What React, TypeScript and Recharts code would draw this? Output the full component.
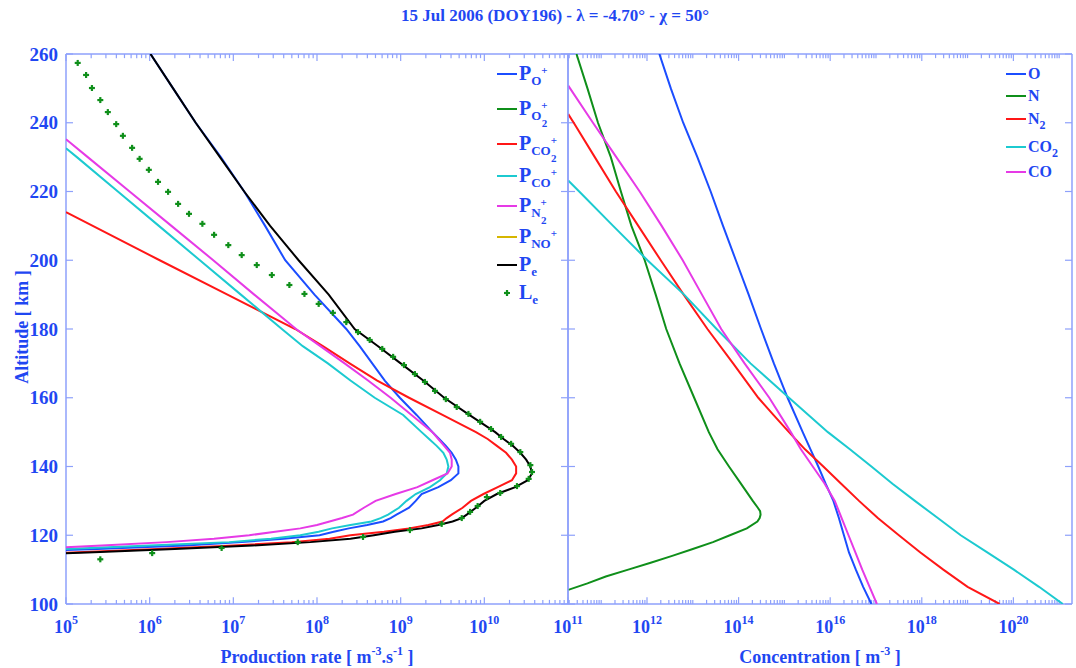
"use client";

import { ScatterChart, Scatter, XAxis, YAxis, ReferenceLine } from "recharts";

/* ------------------------------------------------------ */
/* COLORES / ESTILO */
/* ------------------------------------------------------ */
const TEXT = "#1f47f2";
const AXIS = "#8ea1fb";
const FONT = '"Liberation Serif", "Times New Roman", serif';

const C_BLUE = "#1b4dff";
const C_GREEN = "#0f8f1a";
const C_RED = "#ff1717";
const C_CYAN = "#1ccad0";
const C_MAGENTA = "#e63ae6";
const C_YELLOW = "#d6b600";
const C_BLACK = "#000000";

/* ------------------------------------------------------ */
/* EJES */
/* ------------------------------------------------------ */
const ALT_TICKS = [100, 120, 140, 160, 180, 200, 220, 240, 260];
const ALT_RANGE = [100, 260];
const PROD_EXP_TICKS = [5, 6, 7, 8, 9, 10, 11];
const PROD_EXP_RANGE = [5, 11];
const CONC_EXP_TICKS = [12, 14, 16, 18, 20];
const CONC_EXP_RANGE = [10.275, 21.28];
// largo de las marcas del eje x, en km del eje vertical (~7px y ~4px)
const MAJOR_LEN_KM = 2.0;
const MINOR_LEN_KM = 1.2;

/* ------------------------------------------------------ */
/* DATOS: [altitud km, log10(valor)] */
/* ------------------------------------------------------ */
// tasas de producción (m^-3 s^-1)
const P_O = [
  [115.7, 5.0], [116, 5.37], [117, 6.43], [118, 7.1], [119, 7.6], [120, 8.03],
  [121, 8.2], [122, 8.38], [123, 8.6], [124, 8.79], [125, 8.88], [126, 8.95],
  [128, 9.1], [130, 9.18], [132, 9.25], [134, 9.45], [136, 9.6], [138, 9.69],
  [140, 9.69], [142, 9.66], [144, 9.61], [146, 9.54], [148, 9.46], [150, 9.38],
  [155, 9.19], [160, 8.99], [165, 8.81], [170, 8.66], [175, 8.51], [180, 8.35],
  [190, 7.97], [200, 7.62], [210, 7.38], [220, 7.13], [230, 6.85], [240, 6.55],
  [250, 6.28], [260, 6.01],
];
const P_CO2 = [
  [114.9, 5.0], [116, 6.1], [117, 7.0], [118, 7.7], [119, 8.15], [120, 8.4],
  [121, 8.8], [122, 9.1], [123, 9.33], [124, 9.5], [125, 9.55], [126, 9.61],
  [128, 9.74], [130, 9.84], [132, 9.99], [134, 10.16], [136, 10.33], [138, 10.38],
  [140, 10.38], [142, 10.33], [144, 10.26], [146, 10.15], [148, 10.04], [150, 9.9],
  [155, 9.5], [160, 9.1], [165, 8.72], [170, 8.39], [175, 8.07], [180, 7.74],
  [190, 6.93], [200, 6.12], [210, 5.32], [214, 5.0],
];
const P_CO = [
  [116, 5.0], [117, 6.0], [118, 6.95], [119, 7.45], [120, 7.8], [121, 8.02],
  [122, 8.18], [123, 8.4], [124, 8.65], [125, 8.76], [126, 8.85], [128, 8.98],
  [130, 9.07], [132, 9.18], [134, 9.35], [136, 9.47], [138, 9.55], [140, 9.57],
  [142, 9.55], [144, 9.51], [146, 9.43], [148, 9.34], [150, 9.25], [155, 9.03],
  [160, 8.69], [165, 8.4], [170, 8.13], [175, 7.83], [180, 7.58], [190, 7.09],
  [200, 6.6], [210, 6.11], [220, 5.62], [230, 5.13], [232.6, 5.0],
];
const P_N2 = [
  [116.5, 5.0], [117, 5.43], [118, 6.2], [119, 6.77], [120, 7.19], [121, 7.5],
  [122, 7.8], [123, 8.0], [124, 8.15], [125, 8.3], [126, 8.43], [128, 8.56],
  [130, 8.7], [132, 8.94], [134, 9.2], [136, 9.38], [138, 9.56], [140, 9.61],
  [142, 9.61], [144, 9.59], [146, 9.52], [148, 9.45], [150, 9.38], [155, 9.13],
  [160, 8.88], [165, 8.61], [170, 8.33], [175, 8.04], [180, 7.75], [190, 7.25],
  [200, 6.76], [210, 6.26], [220, 5.76], [230, 5.26], [235.2, 5.0],
];
const P_E = [
  [114.75, 5.0], [115, 5.26], [116, 6.3], [117, 7.23], [118, 7.92], [119, 8.4],
  [120, 8.68], [121, 8.93], [122, 9.25], [123, 9.45], [124, 9.62], [125, 9.73],
  [126, 9.79], [128, 9.9], [130, 10.0], [132, 10.15], [134, 10.37], [136, 10.52],
  [138, 10.57], [140, 10.55], [142, 10.5], [144, 10.43], [146, 10.34], [148, 10.23],
  [150, 10.13], [155, 9.82], [160, 9.52], [165, 9.27], [170, 9.0], [175, 8.73],
  [180, 8.45], [190, 8.14], [200, 7.78], [210, 7.44], [220, 7.13], [230, 6.84],
  [240, 6.55], [250, 6.28], [260, 6.01],
];
// pérdidas (marcadores)
const L_E = [
  [257.4, 5.14], [253.9, 5.24], [250.1, 5.31], [246.6, 5.41], [243.1, 5.5],
  [239.6, 5.6], [236.2, 5.68], [232.7, 5.79], [229.5, 5.88], [226.3, 5.99],
  [222.8, 6.1], [219.9, 6.22], [216.4, 6.34], [213.5, 6.47], [210.6, 6.63],
  [207.4, 6.77], [204.4, 6.94], [201.5, 7.1], [198.6, 7.28], [195.7, 7.46],
  [192.8, 7.67], [190.2, 7.85], [187.3, 8.02], [184.7, 8.19], [182.0, 8.35],
  [179.1, 8.49], [176.8, 8.63], [174.2, 8.78], [171.9, 8.91], [169.5, 9.04],
  [166.9, 9.17], [164.6, 9.29], [162.0, 9.41], [159.6, 9.54], [157.3, 9.67],
  [155.3, 9.81], [153.0, 9.95], [150.9, 10.08], [148.6, 10.2], [146.6, 10.32],
  [144.2, 10.43], [140.4, 10.55], [138.4, 10.57], [136.4, 10.53], [134.3, 10.39],
  [132.3, 10.19], [131.1, 10.03], [128.5, 9.92], [126.8, 9.83], [125.0, 9.73],
  [123.3, 9.49], [121.5, 9.11], [119.5, 8.55], [118.0, 7.77], [116.3, 6.86],
  [114.8, 6.03], [113.0, 5.41],
];

// concentraciones (m^-3)
const N_O = [
  [100, 16.9], [105, 16.72], [110, 16.56], [115, 16.41], [120, 16.3], [125, 16.19],
  [130, 16.07], [135, 15.9], [140, 15.74], [145, 15.57], [150, 15.4], [160, 15.07],
  [170, 14.77], [180, 14.49], [190, 14.22], [200, 13.94], [210, 13.66], [220, 13.39],
  [230, 13.1], [240, 12.79], [250, 12.52], [260, 12.27],
];
const N_N = [
  [104.1, 10.28], [106, 10.7], [108, 11.1], [110, 11.59], [112, 12.08], [114, 12.55],
  [116, 13.0], [118, 13.44], [120, 13.81], [122, 14.18], [124, 14.41], [125, 14.46],
  [126, 14.48], [127, 14.47], [128, 14.42], [130, 14.31], [135, 14.05], [140, 13.79],
  [145, 13.54], [150, 13.35], [160, 13.03], [170, 12.71], [180, 12.42], [190, 12.19],
  [200, 11.95], [210, 11.66], [220, 11.43], [230, 11.21], [240, 10.93], [250, 10.7],
  [260, 10.46],
];
const N_N2 = [
  [100, 19.7], [105, 19.0], [110, 18.47], [115, 17.97], [120, 17.5], [125, 17.04],
  [130, 16.63], [135, 16.24], [140, 15.85], [145, 15.45], [150, 15.1], [155, 14.76],
  [160, 14.43], [170, 13.88], [180, 13.32], [190, 12.8], [200, 12.3], [210, 11.81],
  [220, 11.32], [230, 10.86], [240, 10.4], [242.5, 10.28],
];
const N_CO2 = [
  [100, 21.08], [105, 20.56], [110, 20.01], [115, 19.43], [120, 18.85], [125, 18.35],
  [130, 17.85], [135, 17.36], [140, 16.9], [145, 16.43], [150, 15.95], [160, 15.1],
  [170, 14.26], [180, 13.52], [190, 12.81], [200, 12.01], [210, 11.26], [220, 10.52],
  [223.2, 10.28],
];
const N_CO = [
  [100, 17.02], [105, 16.86], [110, 16.7], [115, 16.55], [120, 16.4], [125, 16.25],
  [130, 16.1], [135, 15.88], [140, 15.62], [145, 15.36], [150, 15.14], [160, 14.67],
  [170, 14.13], [180, 13.62], [190, 13.2], [200, 12.78], [210, 12.32], [220, 11.84],
  [230, 11.33], [240, 10.82], [250, 10.32], [250.8, 10.28],
];

const toPts = (pairs: number[][]) =>
  pairs.map(([alt, e]) => ({ alt, x: Math.pow(10, e) }));

// todas las marcas de un eje log: 1..9 x 10^n dentro del rango
function logTickValues(range: number[]) {
  const out: number[] = [];
  for (let n = Math.floor(range[0]); n <= Math.ceil(range[1]); n++) {
    for (let k = 1; k <= 9; k++) {
      const l = n + Math.log10(k);
      if (l >= range[0] - 1e-6 && l <= range[1] + 1e-6) out.push(k * Math.pow(10, n));
    }
  }
  return out;
}

const isMajor = (v: number, majorExp: number[]) => {
  const l = Math.log10(v);
  const e = Math.round(l);
  return Math.abs(l - e) < 1e-6 && majorExp.includes(e);
};

/* ------------------------------------------------------ */
/* PIEZAS */
/* ------------------------------------------------------ */
const NoDot = () => <g />;
const NoLabel = () => <g />;

const PlusMark = (props: any) => {
  const { cx, cy } = props;
  if (cx == null || cy == null) return <g />;
  return (
    <g stroke={C_GREEN} strokeWidth={2.2}>
      <line x1={cx - 3} x2={cx + 3} y1={cy} y2={cy} />
      <line x1={cx} x2={cx} y1={cy - 3} y2={cy + 3} />
    </g>
  );
};

// etiqueta 10^n en las marcas principales
const makeXLabel = (majorExp: number[]) => (props: any) => {
  const { x, y, payload } = props;
  if (!isMajor(payload.value, majorExp)) return <g />;
  const e = Math.round(Math.log10(payload.value));
  return (
    <text x={x} y={y + 29} textAnchor="middle" fill={TEXT} fontFamily={FONT} fontWeight="bold" fontSize={18}>
      10
      <tspan dy={-9} fontSize={12}>{e}</tspan>
    </text>
  );
};

// los ejes no espejados ocupan 1px, el margen lo compensa
function Frame({ left, width, margin, expRange, majorExp, showY, children }: any) {
  const domain = [Math.pow(10, expRange[0]), Math.pow(10, expRange[1])];
  const allTicks = logTickValues(expRange);
  const axisLine = { stroke: AXIS, strokeWidth: 1.5 };
  const tickLine = { stroke: AXIS, strokeWidth: 1.2 };
  const xCommon = {
    type: "number" as const,
    dataKey: "x",
    scale: "log" as const,
    domain,
    allowDataOverflow: true,
    interval: 0,
    height: 1,
    ticks: allTicks,
    tickLine: false,
    tickSize: 0,
    tickMargin: 0,
    axisLine,
  };
  const yCommon = { type: "number" as const, domain: ALT_RANGE, allowDataOverflow: true, ticks: ALT_TICKS, interval: 0, width: 1 };

  // marcas del eje x hacia adentro (abajo y arriba)
  const marks = allTicks.flatMap((v) => {
    const d = isMajor(v, majorExp) ? MAJOR_LEN_KM : MINOR_LEN_KM;
    return [
      <ReferenceLine
        key={`b${v}`}
        xAxisId="v"
        yAxisId="v"
        segment={[{ x: v, y: ALT_RANGE[0] }, { x: v, y: ALT_RANGE[0] + d }]}
        stroke={AXIS}
        strokeWidth={1.2}
        ifOverflow="visible"
      />,
      <ReferenceLine
        key={`t${v}`}
        xAxisId="v"
        yAxisId="v"
        segment={[{ x: v, y: ALT_RANGE[1] }, { x: v, y: ALT_RANGE[1] - d }]}
        stroke={AXIS}
        strokeWidth={1.2}
        ifOverflow="visible"
      />,
    ];
  });

  return (
    <div style={{ position: "absolute", left, top: 0 }}>
      <ScatterChart width={width} height={668} margin={margin}>
        <XAxis xAxisId="v" {...xCommon} tick={makeXLabel(majorExp)} />
        <XAxis xAxisId="t" orientation="top" {...xCommon} tick={NoLabel} />
        <YAxis
          yAxisId="v"
          dataKey="alt"
          {...yCommon}
          tick={showY ? { fill: TEXT, fontSize: 19, fontWeight: "bold", fontFamily: FONT } : NoLabel}
          tickLine={false}
          axisLine={false}
          tickSize={0}
          tickMargin={8}
        />
        <YAxis yAxisId="lM" {...yCommon} tick={NoLabel} mirror tickSize={7} tickLine={tickLine} axisLine={axisLine} />
        <YAxis yAxisId="rM" orientation="right" {...yCommon} tick={NoLabel} mirror tickSize={7} tickLine={tickLine} axisLine={axisLine} />
        {marks}
        {children}
      </ScatterChart>
    </div>
  );
}

const curve = (key: string, pairs: number[][], color: string) => (
  <Scatter
    key={key}
    name={key}
    xAxisId="v"
    yAxisId="v"
    data={toPts(pairs)}
    fill={color}
    line={{ stroke: color, strokeWidth: 2 }}
    lineJointType="linear"
    shape={NoDot}
    isAnimationActive={false}
  />
);

const Sub = ({ children, size = 13, top = 5 }: any) => (
  <span style={{ position: "relative", top, fontSize: size }}>{children}</span>
);

// "+" arriba y "2" abajo, apilados
const PlusTwo = ({ two }: any) => (
  <>
    <Sub size={11} top={-6}>+</Sub>
    {two && <span style={{ position: "relative", top: 12, fontSize: 11, marginLeft: -6 }}>2</span>}
  </>
);

function Entry({ y, left, color, marker, size, children }: any) {
  return (
    <div style={{ position: "absolute", left, top: y - 12, height: 24, display: "flex", alignItems: "center", whiteSpace: "nowrap" }}>
      {marker ? (
        <svg width={20} height={10}>
          <PlusMark cx={10} cy={5} />
        </svg>
      ) : (
        <span style={{ width: 20, height: 2, background: color, display: "inline-block" }} />
      )}
      <span style={{ marginLeft: 2, fontSize: size, lineHeight: "24px" }}>{children}</span>
    </div>
  );
}

/* ------------------------------------------------------ */
/* UI */
/* ------------------------------------------------------ */
export default function App() {
  return (
    <div
      style={{
        position: "absolute",
        left: 0,
        top: 0,
        width: 1076,
        height: 668,
        background: "#fff",
        fontFamily: FONT,
        fontWeight: "bold",
        color: TEXT,
      }}
    >
      {/* TITULO */}
      <div style={{ position: "absolute", left: 0, width: 1110, top: 6, textAlign: "center", fontSize: 17 }}>
        15 Jul 2006 (DOY196) - λ = -4.70° - χ = 50°
      </div>

      {/* PANEL DERECHO: concentraciones */}
      <Frame
        left={556}
        width={520}
        margin={{ top: 53, right: 4, bottom: 63, left: 11 }}
        expRange={CONC_EXP_RANGE}
        majorExp={CONC_EXP_TICKS}
        showY={false}
      >
        {curve("O", N_O, C_BLUE)}
        {curve("N", N_N, C_GREEN)}
        {curve("N2", N_N2, C_RED)}
        {curve("CO2", N_CO2, C_CYAN)}
        {curve("CO", N_CO, C_MAGENTA)}
      </Frame>

      {/* PANEL IZQUIERDO: producción */}
      <Frame
        left={0}
        width={600}
        margin={{ top: 53, right: 32, bottom: 63, left: 65 }}
        expRange={PROD_EXP_RANGE}
        majorExp={PROD_EXP_TICKS}
        showY
      >
        {curve("PO+", P_O, C_BLUE)}
        {curve("PCO2+", P_CO2, C_RED)}
        {curve("PCO+", P_CO, C_CYAN)}
        {curve("PN2+", P_N2, C_MAGENTA)}
        {curve("Pe", P_E, C_BLACK)}
        <Scatter
          name="Le"
          xAxisId="v"
          yAxisId="v"
          data={toPts(L_E)}
          fill={C_GREEN}
          shape={PlusMark}
          isAnimationActive={false}
        />
      </Frame>

      {/* ETIQUETAS DE EJES */}
      <div style={{ position: "absolute", left: 22, top: 327, transform: "translate(-50%, -50%) rotate(-90deg)", whiteSpace: "nowrap", fontSize: 18 }}>
        Altitude [ km ]
      </div>
      <div style={{ position: "absolute", left: 317, top: 657, transform: "translate(-50%, -50%)", whiteSpace: "nowrap", fontSize: 18 }}>
        Production rate [ m<Sub size={12} top={-8}>-3</Sub>.s<Sub size={12} top={-8}>-1</Sub> ]
      </div>
      <div style={{ position: "absolute", left: 820, top: 657, transform: "translate(-50%, -50%)", whiteSpace: "nowrap", fontSize: 18 }}>
        Concentration [ m<Sub size={12} top={-8}>-3</Sub> ]
      </div>

      {/* LEYENDA IZQUIERDA */}
      <Entry y={74} left={497} color={C_BLUE} size={20}>P<Sub>O</Sub><PlusTwo /></Entry>
      <Entry y={109} left={497} color={C_GREEN} size={20}>P<Sub>O</Sub><PlusTwo two /></Entry>
      <Entry y={144} left={497} color={C_RED} size={20}>P<Sub>CO</Sub><PlusTwo two /></Entry>
      <Entry y={176} left={497} color={C_CYAN} size={20}>P<Sub>CO</Sub><PlusTwo /></Entry>
      <Entry y={206} left={497} color={C_MAGENTA} size={20}>P<Sub>N</Sub><PlusTwo two /></Entry>
      <Entry y={237} left={497} color={C_YELLOW} size={20}>P<Sub>NO</Sub><PlusTwo /></Entry>
      <Entry y={265} left={497} color={C_BLACK} size={20}>P<Sub>e</Sub></Entry>
      <Entry y={293} left={497} color={C_GREEN} size={20} marker>L<Sub>e</Sub></Entry>

      {/* LEYENDA DERECHA */}
      <Entry y={74} left={1006} color={C_BLUE} size={16}>O</Entry>
      <Entry y={96} left={1006} color={C_GREEN} size={16}>N</Entry>
      <Entry y={119} left={1006} color={C_RED} size={16}>N<Sub size={12}>2</Sub></Entry>
      <Entry y={147} left={1006} color={C_CYAN} size={16}>CO<Sub size={12}>2</Sub></Entry>
      <Entry y={172} left={1006} color={C_MAGENTA} size={16}>CO</Entry>
    </div>
  );
}
